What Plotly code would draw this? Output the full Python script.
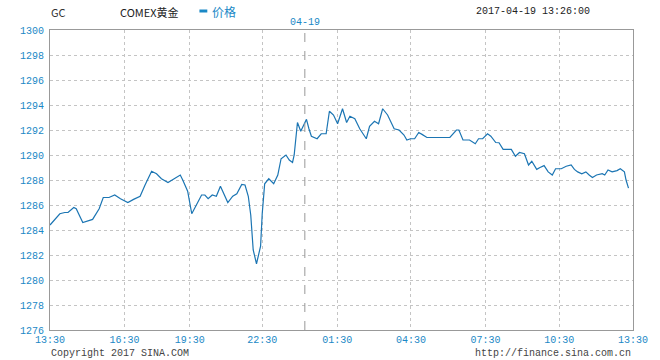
import plotly.graph_objects as go

# minute index along the (compressed) trading axis, starting 13:30
minute_idx = [0, 24, 36, 44, 58, 64, 80, 92, 104, 120, 130, 144, 158, 172, 190, 204, 220, 232, 248, 260,
              272, 288, 304, 318, 324, 336, 346, 360, 370, 378, 386, 396, 406, 416, 426, 434, 446, 456, 468, 476,
              484, 490, 496, 504, 514, 518, 524, 534, 546, 556, 564, 576, 584, 592, 596, 604, 612, 620, 626, 632,
              638, 652, 662, 674, 682, 692, 702, 714, 724, 732, 744, 756, 772, 780, 792, 802, 812, 824, 840, 852,
              864, 871, 880, 890, 900, 908, 920, 976, 984, 992, 998, 1008, 1024, 1032, 1038, 1046, 1056, 1068, 1076, 1088,
              1096, 1106, 1126, 1136, 1146, 1158, 1168, 1176, 1188, 1196, 1206, 1216, 1226, 1234, 1248, 1260, 1272, 1280, 1288, 1298,
              1308, 1316, 1324, 1334, 1348, 1354, 1362, 1372, 1384, 1392, 1402, 1406, 1412]
price = [1284.4, 1285.3, 1285.4, 1285.4, 1285.8, 1285.7, 1284.6, 1284.7, 1284.85, 1285.7, 1286.6, 1286.6, 1286.8, 1286.5, 1286.2, 1286.45, 1286.7, 1287.6, 1288.7, 1288.5,
         1288.1, 1287.8, 1288.1, 1288.4, 1288.0, 1287.1, 1285.3, 1286.2, 1286.8, 1286.8, 1286.5, 1286.8, 1286.7, 1287.5, 1286.7, 1286.2, 1286.7, 1286.9, 1287.65, 1287.6,
         1286.7, 1285.2, 1282.4, 1281.3, 1282.7, 1285.3, 1287.7, 1288.1, 1287.7, 1288.4, 1289.7, 1290.0, 1289.6, 1289.4, 1290.0, 1292.6, 1291.9, 1292.4, 1292.85, 1292.1,
         1291.5, 1291.3, 1291.7, 1291.7, 1293.5, 1293.2, 1292.5, 1293.7, 1292.6, 1293.1, 1292.9, 1292.1, 1291.3, 1292.3, 1292.7, 1292.5, 1293.7, 1293.2, 1292.1, 1292.0,
         1291.6, 1291.2, 1291.3, 1291.3, 1291.8, 1291.65, 1291.4, 1291.4, 1291.7, 1292.0, 1292.0, 1291.2, 1291.2, 1291.05, 1290.9, 1291.3, 1291.3, 1291.7, 1291.5, 1291.0,
         1290.98, 1290.45, 1290.45, 1289.9, 1290.2, 1290.1, 1289.2, 1289.5, 1288.85, 1289.0, 1289.15, 1288.65, 1288.4, 1288.9, 1288.9, 1289.1, 1289.2, 1288.85, 1288.65, 1288.5,
         1288.65, 1288.4, 1288.2, 1288.4, 1288.5, 1288.4, 1288.8, 1288.65, 1288.75, 1288.9, 1288.65, 1288.0, 1287.35]

x_tickvals = [0, 182, 341, 518, 701, 881, 1063, 1243, 1423]
x_ticktext = ["13:30", "16:30", "19:30", "22:30", "01:30", "04:30", "07:30", "10:30", "13:30"]
date_break = 622
y_ticks = list(range(1276, 1301, 2))

LINE = "#1b75b3"
LBL = "#1a88c6"
MONO = "Liberation Mono, DejaVu Sans Mono, monospace"

fig = go.Figure()
fig.add_trace(go.Scatter(x=minute_idx, y=price, mode="lines",
                         line=dict(color=LINE, width=1.2), hoverinfo="skip", showlegend=False))

fig.update_layout(
    width=660, height=360,
    margin=dict(l=50, r=17, t=30, b=30),
    paper_bgcolor="white", plot_bgcolor="white",
    xaxis=dict(range=[0, 1423], tickvals=x_tickvals, ticktext=x_ticktext,
               showgrid=True, gridcolor="#c4c4c4", griddash="dot", gridwidth=1,
               showline=True, linecolor="#999999", mirror=True, linewidth=1,
               zeroline=False, ticks="", tickfont=dict(family=MONO, size=10, color=LBL)),
    yaxis=dict(range=[1276, 1300], tickvals=y_ticks,
               showgrid=True, gridcolor="#c4c4c4", griddash="dot", gridwidth=1,
               showline=True, linecolor="#999999", mirror=True, linewidth=1,
               zeroline=False, ticks="", ticklabelstandoff=3,
               tickfont=dict(family=MONO, size=10, color=LBL)),
)

fig.add_shape(type="line", xref="x", yref="paper", x0=date_break, x1=date_break, y0=0, y1=1,
              line=dict(color="#999999", width=1, dash="dash"))


def ann(text, xpx, ypx, color, size, family, anchor="left"):
    fig.add_annotation(x=(xpx - 50) / 593, y=(330 - ypx) / 300, xref="paper", yref="paper",
                       text=text, showarrow=False, xanchor=anchor, yanchor="middle",
                       font=dict(family=family, size=size, color=color))


ann("04-19", 309, 22, LBL, 10, MONO, "center")
ann("GC", 49, 12, "#333333", 11, "Noto Sans CJK SC")
ann("COMEX黄金", 119, 12, "#222222", 11, "Noto Sans CJK SC")
ann("价格", 213, 12, LBL, 12, "Noto Sans CJK SC")
ann("2017-04-19 13:26:00", 601, 12, "#222222", 10, MONO, "right")
ann("Copyright 2017 SINA.COM", 49, 353, "#444444", 10, MONO)
ann("http://finance.sina.com.cn", 643, 353, "#444444", 10, MONO, "right")

fig.add_shape(type="line", xref="paper", yref="paper",
              x0=(202 - 50) / 593, x1=(210 - 50) / 593, y0=(330 - 11) / 300, y1=(330 - 11) / 300,
              line=dict(color=LBL, width=3))

fig.write_html("out.html")
